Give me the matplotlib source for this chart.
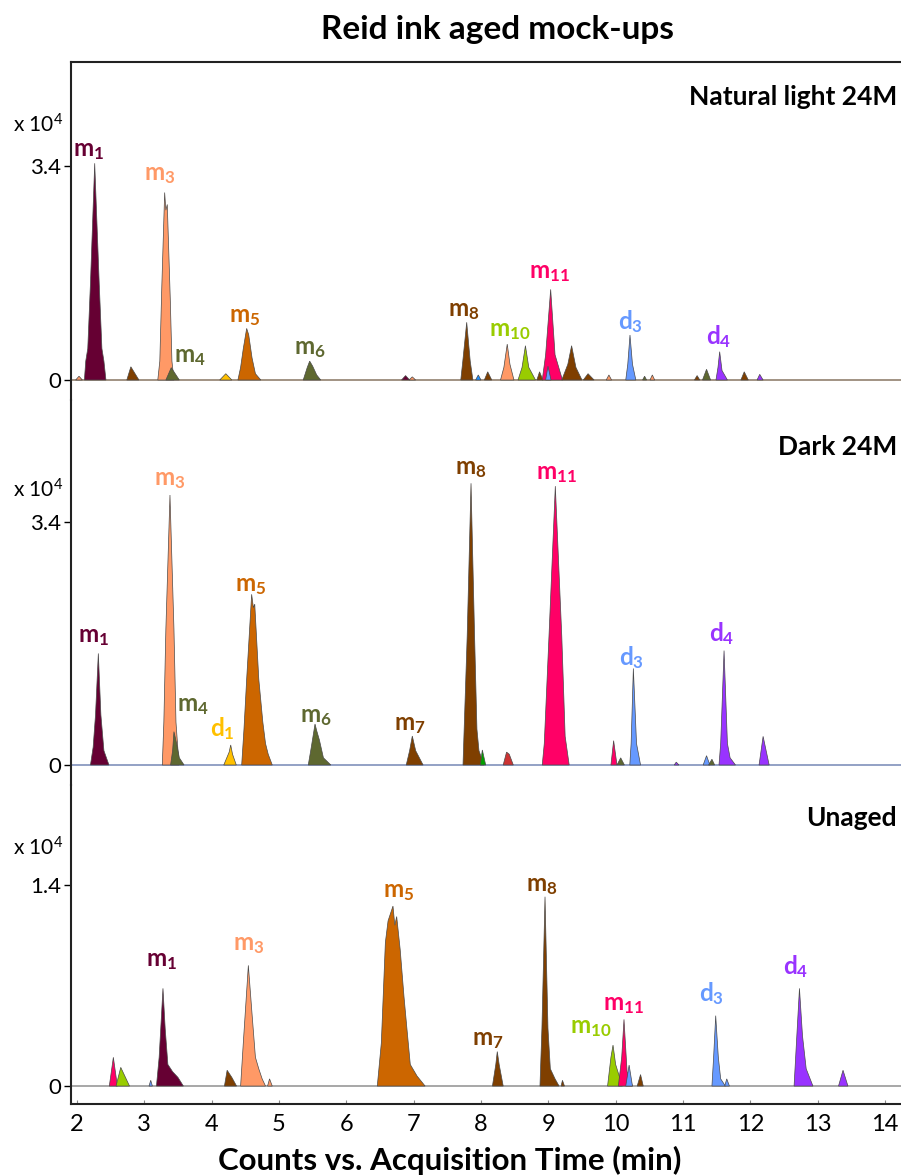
import matplotlib
matplotlib.use("Agg")
import matplotlib.pyplot as plt
import matplotlib.transforms as mtrans

plt.rcParams['font.family'] = ['Lato', 'DejaVu Sans']
plt.rcParams['mathtext.fontset'] = 'custom'
plt.rcParams['mathtext.rm'] = 'Lato'
plt.rcParams['mathtext.bf'] = 'Lato:bold'
plt.rcParams['mathtext.it'] = 'Lato:italic'

# ---------------- data (time in min, intensity in counts x 10^4) ----------------
panel_titles = ["Natural light 24M", "Dark 24M", "Unaged"]
y_top_ticks = [3.4, 3.4, 1.4]
x_ticks = [2, 3, 4, 5, 6, 7, 8, 9, 10, 11, 12, 13, 14]

compound_colors = {
    "m1": "#660033", "m3": "#ff9966", "m4": "#5e6830", "m5": "#cc6600",
    "m6": "#5e6830", "m7": "#7f3f00", "m8": "#7f3f00", "m10": "#99cc00",
    "m11": "#ff0066", "d1": "#ffc000", "d3": "#6699ff", "d4": "#9933ff",
    "blue": "#1f8fff", "green": "#00a000", "red": "#cc3333",
}

# each peak: (compound, times, intensities)
natural_peaks = [
    ("m3", [1.98, 2.03, 2.08], [0, 0.06, 0]),
    ("m1", [2.11, 2.13, 2.16, 2.20, 2.263, 2.33, 2.37, 2.40, 2.43],
     [0, 0.3, 0.5, 1.54, 3.445, 1.54, 0.5, 0.3, 0]),
    ("m8", [2.74, 2.80, 2.92], [0, 0.21, 0]),
    ("m3", [3.20, 3.23, 3.26, 3.302, 3.32, 3.341, 3.385, 3.41, 3.44],
     [0, 0.3, 1.5, 2.98, 2.7, 2.79, 1.3, 0.3, 0]),
    ("m4", [3.32, 3.40, 3.52], [0, 0.196, 0]),
    ("d1", [4.12, 4.21, 4.30], [0, 0.10, 0]),
    ("m5", [4.39, 4.43, 4.47, 4.52, 4.55, 4.60, 4.65, 4.73], [0, 0.2, 0.5, 0.82, 0.72, 0.35, 0.1, 0]),
    ("m6", [5.36, 5.42, 5.456, 5.50, 5.56, 5.62], [0, 0.2, 0.30, 0.22, 0.08, 0]),
    ("m1", [6.82, 6.88, 6.94], [0, 0.07, 0]),
    ("m3", [6.93, 6.98, 7.03], [0, 0.05, 0]),
    ("m8", [7.70, 7.73, 7.788, 7.84, 7.88], [0, 0.3, 0.917, 0.3, 0]),
    ("blue", [7.92, 7.96, 8.00], [0, 0.08, 0]),
    ("m8", [8.05, 8.10, 8.16], [0, 0.13, 0]),
    ("m3", [8.29, 8.34, 8.39, 8.43, 8.49], [0, 0.2, 0.57, 0.25, 0]),
    ("m10", [8.55, 8.61, 8.66, 8.71, 8.81], [0, 0.2, 0.545, 0.2, 0]),
    ("m8", [8.83, 8.87, 8.92], [0, 0.13, 0]),
    ("m11", [8.91, 8.96, 9.035, 9.10, 9.21], [0, 0.4, 1.44, 0.4, 0]),
    ("d3", [8.96, 8.995, 9.04], [0, 0.22, 0]),
    ("m8", [9.20, 9.29, 9.346, 9.41, 9.50], [0, 0.25, 0.545, 0.2, 0]),
    ("m8", [9.52, 9.59, 9.68], [0, 0.10, 0]),
    ("m3", [9.86, 9.90, 9.94], [0, 0.08, 0]),
    ("d3", [10.15, 10.18, 10.213, 10.25, 10.30], [0, 0.25, 0.715, 0.25, 0]),
    ("m6", [10.40, 10.43, 10.46], [0, 0.06, 0]),
    ("m3", [10.51, 10.545, 10.58], [0, 0.08, 0]),
    ("m8", [11.17, 11.21, 11.25], [0, 0.07, 0]),
    ("m6", [11.29, 11.35, 11.41], [0, 0.17, 0]),
    ("d4", [11.49, 11.52, 11.545, 11.58, 11.66], [0, 0.2, 0.45, 0.15, 0]),
    ("m8", [11.86, 11.91, 11.97], [0, 0.13, 0]),
    ("d4", [12.10, 12.14, 12.19], [0, 0.09, 0]),
]

dark_peaks = [
    ("m1", [2.20, 2.24, 2.275, 2.317, 2.355, 2.40, 2.475], [0, 0.25, 0.7, 1.56, 0.7, 0.2, 0]),
    ("m3", [3.267, 3.29, 3.32, 3.381, 3.44, 3.47, 3.515], [0, 0.6, 1.9, 3.776, 1.9, 0.6, 0]),
    ("m4", [3.39, 3.42, 3.44, 3.48, 3.52, 3.59], [0, 0.2, 0.466, 0.3, 0.1, 0]),
    ("d1", [4.18, 4.26, 4.283, 4.31, 4.366], [0, 0.18, 0.28, 0.15, 0]),
    ("m5", [4.446, 4.48, 4.52, 4.594, 4.62, 4.64, 4.70, 4.76, 4.80, 4.84, 4.90],
     [0, 0.5, 1.2, 2.387, 2.2, 2.25, 1.2, 0.6, 0.3, 0.15, 0]),
    ("m6", [5.435, 5.48, 5.535, 5.56, 5.60, 5.66, 5.77], [0, 0.25, 0.573, 0.48, 0.35, 0.1, 0]),
    ("m7", [6.89, 6.94, 6.98, 7.03, 7.14], [0, 0.2, 0.405, 0.2, 0]),
    ("m8", [7.733, 7.75, 7.795, 7.852, 7.905, 7.94, 7.97, 8.045], [0, 0.5, 1.8, 3.94, 1.8, 0.5, 0.2, 0]),
    ("green", [7.99, 8.02, 8.07], [0, 0.21, 0]),
    ("red", [8.33, 8.38, 8.42, 8.48], [0, 0.18, 0.15, 0]),
    ("m11", [8.91, 8.94, 9.01, 9.104, 9.20, 9.25, 9.31], [0, 0.3, 1.8, 3.90, 1.8, 0.4, 0]),
    ("m11", [9.93, 9.97, 10.02], [0, 0.34, 0]),
    ("m6", [10.02, 10.075, 10.13], [0, 0.1, 0]),
    ("d3", [10.21, 10.23, 10.263, 10.31, 10.37], [0, 0.3, 1.35, 0.3, 0]),
    ("d4", [10.87, 10.90, 10.94], [0, 0.04, 0]),
    ("d3", [11.30, 11.35, 11.40], [0, 0.13, 0]),
    ("m6", [11.38, 11.43, 11.47], [0, 0.08, 0]),
    ("d4", [11.535, 11.56, 11.61, 11.66, 11.70, 11.78], [0, 0.3, 1.60, 0.3, 0.1, 0]),
    ("d4", [12.13, 12.19, 12.28], [0, 0.40, 0]),
]

unaged_peaks = [
    ("m11", [2.48, 2.54, 2.60], [0, 0.2, 0]),
    ("m10", [2.58, 2.65, 2.78], [0, 0.13, 0]),
    ("d3", [3.07, 3.095, 3.12], [0, 0.04, 0]),
    ("m1", [3.18, 3.22, 3.277, 3.31, 3.35, 3.42, 3.50, 3.58], [0, 0.2, 0.68, 0.4, 0.15, 0.1, 0.06, 0]),
    ("m8", [4.19, 4.23, 4.30, 4.37], [0, 0.11, 0.06, 0]),
    ("m3", [4.43, 4.47, 4.545, 4.60, 4.65, 4.70, 4.75, 4.80], [0, 0.3, 0.84, 0.5, 0.2, 0.12, 0.05, 0]),
    ("m3", [4.83, 4.86, 4.90], [0, 0.05, 0]),
    ("m5", [6.46, 6.52, 6.58, 6.62, 6.693, 6.72, 6.748, 6.80, 6.857, 6.90, 6.95, 7.05, 7.17],
     [0, 0.3, 1.0, 1.15, 1.253, 1.12, 1.18, 0.95, 0.62, 0.4, 0.15, 0.07, 0]),
    ("m7", [8.17, 8.22, 8.242, 8.27, 8.33], [0, 0.15, 0.24, 0.15, 0]),
    ("m8", [8.876, 8.905, 8.951, 8.995, 9.03, 9.10, 9.16], [0, 0.4, 1.318, 0.4, 0.12, 0.05, 0]),
    ("m8", [9.19, 9.21, 9.24], [0, 0.04, 0]),
    ("m10", [9.88, 9.93, 9.961, 10.00, 10.10], [0, 0.2, 0.285, 0.15, 0]),
    ("m11", [10.04, 10.09, 10.124, 10.17, 10.25], [0, 0.2, 0.464, 0.1, 0]),
    ("d3", [10.15, 10.20, 10.25], [0, 0.146, 0]),
    ("m8", [10.32, 10.37, 10.41], [0, 0.08, 0]),
    ("d3", [11.43, 11.455, 11.486, 11.525, 11.56, 11.63], [0, 0.2, 0.49, 0.2, 0.05, 0]),
    ("d3", [11.62, 11.65, 11.69], [0, 0.05, 0]),
    ("d4", [12.65, 12.685, 12.73, 12.775, 12.83, 12.93], [0, 0.3, 0.68, 0.35, 0.12, 0]),
    ("d4", [13.31, 13.377, 13.45], [0, 0.11, 0]),
]

# labels: (compound, letter, subscript, time, intensity)
natural_labels = [
    ("m1", "m", "1", 2.178, 3.625), ("m3", "m", "3", 3.233, 3.243), ("m4", "m", "4", 3.678, 0.35),
    ("m5", "m", "5", 4.495, 1.0), ("m6", "m", "6", 5.46, 0.477), ("m8", "m", "8", 7.748, 1.081),
    ("m10", "m", "10", 8.431, 0.763), ("m11", "m", "11", 9.025, 1.685),
    ("d3", "d", "3", 10.213, 0.922), ("d4", "d", "4", 11.535, 0.684),
]
dark_labels = [
    ("m1", "m", "1", 2.252, 1.79), ("m3", "m", "3", 3.381, 3.986), ("m4", "m", "4", 3.723, 0.811),
    ("d1", "d", "1", 4.154, 0.503), ("m5", "m", "5", 4.584, 2.49), ("m6", "m", "6", 5.55, 0.671),
    ("m7", "m", "7", 6.946, 0.559), ("m8", "m", "8", 7.852, 4.126), ("m11", "m", "11", 9.129, 4.056),
    ("d3", "d", "3", 10.228, 1.497), ("d4", "d", "4", 11.58, 1.832),
]
unaged_labels = [
    ("m1", "m", "1", 3.262, 0.864), ("m3", "m", "3", 4.555, 0.982), ("m5", "m", "5", 6.782, 1.351),
    ("m7", "m", "7", 8.104, 0.32), ("m8", "m", "8", 8.906, 1.386), ("m10", "m", "10", 9.634, 0.404),
    ("m11", "m", "11", 10.124, 0.564), ("d3", "d", "3", 11.416, 0.641), ("d4", "d", "4", 12.679, 0.829),
]

# ---------------- layout ----------------
W, H = 901, 1176
fig = plt.figure(figsize=(W / 100, H / 100), dpi=100)

xlim = (1.911, 14.238)
panels = [
    dict(peaks=natural_peaks, labels=natural_labels, top=62, bottom=400, ylim=(-0.318, 5.055),
         title_y=4.5, exp_y=4.05, base="#9a8a7a"),
    dict(peaks=dark_peaks, labels=dark_labels, top=400, bottom=785, ylim=(-0.28, 5.105),
         title_y=4.45, exp_y=3.846, base="#8a9ac0"),
    dict(peaks=unaged_peaks, labels=unaged_labels, top=785, bottom=1104, ylim=(-0.125, 2.096),
         title_y=1.866, exp_y=1.657, base="#a0a0a0"),
]

for i, p in enumerate(panels):
    ax = fig.add_axes([71 / W, 1 - p["bottom"] / H, (W - 71) / W, (p["bottom"] - p["top"]) / H])
    ax.set_xlim(*xlim)
    ax.set_ylim(*p["ylim"])
    ax.patch.set_alpha(0)
    for s in ["right", "top", "bottom"]:
        ax.spines[s].set_visible(False)
    ax.spines["left"].set_linewidth(1.5)
    ax.spines["left"].set_color("#222222")
    if i == 0:
        ax.spines["top"].set_visible(True)
        ax.spines["top"].set_linewidth(1.5)
        ax.spines["top"].set_color("#222222")
    if i == 2:
        ax.spines["bottom"].set_visible(True)
        ax.spines["bottom"].set_linewidth(1.5)
        ax.spines["bottom"].set_color("#222222")
        ax.set_xticks(x_ticks)
        ax.tick_params(axis="x", direction="in", length=3, width=0.8, labelsize=17,
                       pad=7, color="#888888")
    else:
        ax.set_xticks([])

    ax.set_yticks([0, y_top_ticks[i]])
    ax.set_yticklabels(["0", f"{y_top_ticks[i]}"])
    ax.tick_params(axis="y", direction="out", length=5, width=1, labelsize=16, pad=2)

    ax.axhline(0, color=p["base"], lw=1.3, zorder=1)

    for comp, t, v in p["peaks"]:
        ax.fill(t, v, facecolor=compound_colors[comp], edgecolor="#4a4a4a",
                linewidth=0.5, zorder=2)

    for comp, letter, sub, t, v in p["labels"]:
        ax.text(t, v, r"$\mathbf{%s}_{\mathbf{%s}}$" % (letter, sub), color=compound_colors[comp],
                fontsize=17.5, ha="center", va="center", zorder=3)

    tr = mtrans.blended_transform_factory(ax.transAxes, ax.transData)
    ax.text(-0.009, p["exp_y"], r"x 10$^{4}$", transform=tr, ha="right", va="center", fontsize=15)

    ax.text(14.178, p["title_y"], panel_titles[i], ha="right", va="center",
            fontsize=19, fontweight="bold")

fig.text(497 / W, 1 - 30 / H, "Reid ink aged mock-ups", ha="center", va="center",
         fontsize=24, fontweight="bold")
fig.text(450 / W, 1 - 1160 / H, "Counts vs. Acquisition Time (min)", ha="center", va="center",
         fontsize=22.5, fontweight="bold")

fig.savefig("out.png", dpi=100)
